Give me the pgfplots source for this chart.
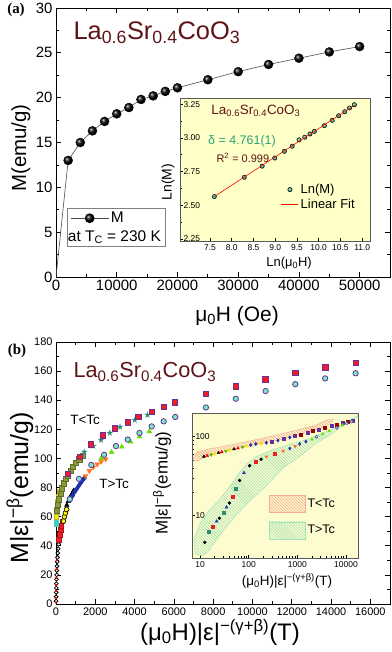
\documentclass[border=0pt]{standalone}
\usepackage{fontspec}
\setmainfont{Liberation Sans}
\setsansfont{Liberation Sans}
\newfontfamily\serifbf{Liberation Serif}
\usepackage{amssymb}
\usepackage{pgfplots}
\pgfplotsset{compat=1.18}
\usetikzlibrary{patterns}

\definecolor{titlered}{HTML}{5E1417}
\definecolor{insetbg}{HTML}{FFFFC8}
\definecolor{insetbgb}{HTML}{FCFCCF}
\definecolor{fitgreen}{HTML}{2AA37B}
\definecolor{dotgreen}{HTML}{3DBE8F}
\definecolor{edgepurple}{HTML}{6A2D9A}
\definecolor{sqred}{HTML}{EE1C25}
\definecolor{mint}{HTML}{74EBC0}
\definecolor{starteal}{HTML}{2E8B78}
\definecolor{olivegrn}{HTML}{8A9B3A}
\definecolor{limegrn}{HTML}{66E000}
\definecolor{orng}{HTML}{FF6F1E}
\definecolor{dblue}{HTML}{1F2FAE}
\definecolor{cyansq}{HTML}{40D0C0}
\definecolor{hatchred}{HTML}{EE8A6C}
\definecolor{hatchgrn}{HTML}{86D9AA}

\newcommand{\fs}[1]{\fontsize{#1}{#1}\selectfont}
\newcommand{\tstar}{\fs{8}\textcolor{starteal}{$\bigstar$}}

\pgfplotsset{
  every axis/.append style={
    scale only axis, clip mode=individual,
    /pgf/number format/assume math mode=true,
    /pgf/number format/1000 sep={},
    scaled ticks=false,
    tick style={black, line width=0.7bp},
    axis line style={line width=0.9bp},
  },
  mk/.style={only marks, mark size=#1},
  balllegend/.style={legend image code/.code={
    \draw[gray!60!black, line width=0.6bp] (0bp,0bp) -- (38bp,0bp);
    \draw[##1] plot coordinates {(19bp,0bp)};}},
  boxlegend/.style={legend image code/.code={\draw[##1] (0bp,-8.5bp) rectangle (36bp,8.5bp);}},
}

\begin{document}
\begin{tikzpicture}

%% ---------------- panel (a) ----------------
\begin{axis}[
  at={(56bp,-277bp)}, anchor=south west,
  width=334bp, height=269bp,
  xmin=0, xmax=55000, ymin=0, ymax=30,
  xtick={0,10000,20000,30000,40000,50000},
  ytick={0,5,10,15,20,25,30},
  minor x tick num=1, minor y tick num=1,
  major tick length=5bp, minor tick length=3bp,
  tick label style={font=\fs{15}},
  xlabel={μ\textsubscript{0}H (Oe)},
  ylabel={M(emu/g)},
  xlabel style={font=\fs{21}, at={(axis description cs:0.542,-0.145)}, anchor=center},
  ylabel style={font=\fs{20.5}, at={(axis description cs:-0.105,0.48)}, anchor=center},
  legend style={at={(axis description cs:0.033,0.112)}, anchor=south west,
    draw=gray, line width=0.7bp, fill=white, font=\fs{15.5}, cells={anchor=west},
    inner xsep=3bp, inner ysep=2bp, row sep=2bp},
]
\addplot[gray!60!black, line width=0.6bp, forget plot] coordinates {
  (0,0) (2000,13) (4000,15) (6000,16.3) (8000,17.35) (10000,18.2) (12000,18.9)
  (14000,19.8) (16000,20.2) (18000,20.7) (20000,21.1) (25000,22.0) (30000,22.9)
  (35000,23.7) (40000,24.4) (45000,25.1) (50000,25.7)};
\addplot[only marks, mark=ball, mark size=4.5bp, mark options={ball color=black}, balllegend]
  coordinates {
  (2000,13) (4000,15) (6000,16.3) (8000,17.35) (10000,18.2) (12000,18.9)
  (14000,19.8) (16000,20.2) (18000,20.7) (20000,21.1) (25000,22.0) (30000,22.9)
  (35000,23.7) (40000,24.4) (45000,25.1) (50000,25.7)};
\addlegendentry{M}
\addlegendimage{empty legend}
\addlegendentry{\hspace*{-43bp}at T\textsubscript{C} = 230 K}
\node[anchor=base west, font=\fs{25.5}, text=titlered] at (axis description cs:0.042,0.884)
  {La\textsubscript{0.6}Sr\textsubscript{0.4}CoO\textsubscript{3}};
\end{axis}

%% inset (a)
\begin{axis}[
  at={(180bp,-241bp)}, anchor=south west,
  width=190bp, height=143bp,
  xmin=6.81, xmax=11.18, ymin=2.235, ymax=3.297,
  axis background/.style={fill=insetbg},
  axis line style={gray!70!black, line width=0.7bp},
  xtick={7.5,8,8.5,9,9.5,10,10.5,11},
  ytick={2.25,2.5,2.75,3,3.25},
  minor y tick num=1,
  xtick pos=left, ytick pos=left,
  major tick length=3bp, minor tick length=2bp,
  tick label style={font=\fs{8.5}},
  xticklabel style={/pgf/number format/.cd, fixed, fixed zerofill, precision=1},
  yticklabel style={anchor=west, /pgf/number format/.cd, fixed, fixed zerofill, precision=2},
  xlabel={Ln(μ\textsubscript{0}H)}, ylabel={Ln(M)},
  xlabel style={font=\fs{13}, at={(axis description cs:0.574,-0.154)}, anchor=center},
  ylabel style={font=\fs{14}, at={(axis description cs:-0.063,0.413)}, anchor=center},
  legend style={at={(axis description cs:0.526,0.42)}, anchor=north west,
    draw=none, fill=none, font=\fs{13}, cells={anchor=west}, row sep=0bp, inner sep=1bp},
]
\addplot[only marks, mark=ball, mark size=2.2bp, mark options={ball color=dotgreen}] coordinates {
  (7.60,2.565) (8.29,2.708) (8.70,2.791) (8.99,2.851) (9.21,2.901) (9.39,2.939)
  (9.55,2.986) (9.68,3.006) (9.80,3.030) (9.90,3.049) (10.13,3.091) (10.31,3.131)
  (10.46,3.165) (10.60,3.195) (10.71,3.223) (10.82,3.247)};
\addlegendentry{Ln(M)}
\addplot[red, line width=0.6bp] coordinates {(7.60,2.565) (10.82,3.243)};
\addlegendentry{Linear Fit}
\node[anchor=base west, font=\fs{13.5}, text=titlered] at (axis description cs:0.147,0.888)
  {La\textsubscript{0.6}Sr\textsubscript{0.4}CoO\textsubscript{3}};
\node[anchor=west, font=\fs{12.5}, text=fitgreen] at (axis description cs:0.13,0.694) {δ = 4.761(1)};
\node[anchor=west, font=\fs{11}, text=titlered] at (axis description cs:0.174,0.584) {R\textsuperscript{2} = 0.999};
\end{axis}

%% ---------------- panel (b) ----------------
\begin{axis}[
  at={(56bp,-604bp)}, anchor=south west,
  width=334bp, height=262bp,
  xmin=0, xmax=17000, ymin=0, ymax=180,
  xtick={0,2000,4000,6000,8000,10000,12000,14000,16000},
  ytick={0,20,40,60,80,100,120,140,160,180},
  minor x tick num=1, minor y tick num=1,
  major tick length=5bp, minor tick length=3bp,
  tick label style={font=\fs{11}},
  xlabel={(μ\textsubscript{0}H)|ε|\textsuperscript{−(γ+β)}(T)},
  ylabel={M|ε|\textsuperscript{−β}(emu/g)},
  xlabel style={font=\fs{24}, at={(axis description cs:0.491,-0.107)}, anchor=center},
  ylabel style={font=\fs{25}, at={(axis description cs:-0.108,0.443)}, anchor=center},
]
% T>Tc, low fields
\addplot[mk=1.9bp, mark=*, mark options={fill=white, draw=black, line width=0.8bp}] coordinates {
  (3,2) (6,5) (10,8) (14,11) (19,14) (25,17) (32,20) (40,23) (50,26) (62,29)
  (76,32) (92,35) (112,38) (135,41) (165,44) (200,47) (240,50)};
\addplot[mk=0.9bp, mark=*, red] coordinates {
  (2,1) (4,4) (7,9) (11,13) (16,18) (24,24) (36,30)};
\addplot[mk=2.3bp, mark=square*, mark options={fill=sqred, draw=sqred!70!black}] coordinates {
  (150,44) (190,47.5) (230,51) (270,54) (310,57)};
\addplot[mk=2.4bp, mark=*, mark options={fill=yellow, draw=black, line width=0.6bp}] coordinates {
  (380,57) (430,60) (480,62.5) (540,65)};
\addplot[mk=2.6bp, mark=triangle*, black] coordinates {
  (550,68) (620,70.5) (700,73) (800,75.5) (900,78)};
\addplot[mk=2.8bp, mark=diamond*, dblue] coordinates {
  (750,72) (850,74.5) (950,77) (1050,79) (1150,81) (1250,83) (1350,85) (1450,86.5)};
\addplot[mk=2.8bp, mark=triangle*, orng, mark options={rotate=180}] coordinates {
  (1500,88) (1700,91.5) (1900,94) (2100,96) (2300,97.8) (2530,99.5)};
\addplot[mk=2.8bp, mark=triangle*, limegrn] coordinates {
  (2300,100) (2830,104.3) (3350,108) (3800,111.5) (4250,115) (4750,118.5)};
% T<Tc, low fields
\addplot[mk=2.2bp, mark=square*, cyansq] coordinates {
  (5,55) (12,58) (25,61.5) (45,65)};
\addplot[mk=2.3bp, mark=square*, mark options={fill=yellow!90!orange, draw=yellow!70!black}] coordinates {
  (15,60) (35,63.5) (60,67) (90,70.5) (130,74) (180,77.5)};
\addplot[mk=2.6bp, mark=square*, mark options={fill=olivegrn, draw=olivegrn!70!black}] coordinates {
  (40,64) (90,68) (150,72) (220,76) (300,79.5) (390,83) (490,86) (600,88.5)
  (730,91.5) (870,94.5) (1020,97) (1180,99.5) (1350,102)};
\addplot[only marks, mark=text, text mark={\tstar}] coordinates {
  (1450,104) (1900,108.5) (2300,112.5) (2740,117.3) (3260,121) (4020,126) (4660,129.2)};
% nearest temperatures
\addplot[mk=2.7bp, mark=*, mark options={fill=mint, draw=edgepurple, line width=0.8bp}] coordinates {
  (700,72) (1170,86) (1800,95.5) (2450,102.5) (3050,108.5) (3650,113) (4250,117.5)
  (4870,122) (5480,125.5) (6070,128.5) (7630,135) (9150,141) (10670,146.3)
  (12180,151) (13700,155) (15250,158.5)};
\addplot[mk=2.7bp, mark=square*, mark options={fill=sqred, draw=edgepurple, line width=0.8bp}] coordinates {
  (592,89.3) (1204,101.2) (1780,109.7) (2393,115.9) (3000,120.7) (3650,124.9)
  (4190,128.7) (4885,132.1) (5498,135.6) (6058,138.4) (7629,144.3) (9147,149.6)
  (10666,154.4) (12184,158.7) (13702,162.6) (15252,165.8)};
\node[anchor=base west, text=titlered, font=\fs{21.8}] at (axis description cs:0.042,0.864)
  {La\textsubscript{0.6}Sr\textsubscript{0.4}CoO\textsubscript{3}};
\node[font=\fs{13.5}] at (axis description cs:0.087,0.702) {T<Tc};
\node[font=\fs{13.5}] at (axis description cs:0.174,0.458) {T>Tc};
\end{axis}

%% inset (b)
\begin{axis}[
  xmode=log, ymode=log,
  at={(192bp,-558bp)}, anchor=south west,
  width=166bp, height=145bp,
  xmin=6.84, xmax=17660, ymin=2.92, ymax=200,
  axis background/.style={fill=insetbgb},
  axis line style={gray!70!black, line width=0.7bp},
  xtick={10,100,1000,10000}, xticklabels={10,100,1000,10000},
  ytick={10,100}, yticklabels={10,100},
  xtick pos=left, ytick pos=left,
  major tick length=3bp, minor tick length=2bp,
  yticklabel style={anchor=west},
  tick label style={font=\fs{8.5}},
  xlabel={(μ\textsubscript{0}H)|ε|\textsuperscript{−(γ+β)}(T)},
  ylabel={M|ε|\textsuperscript{−β}(emu/g)},
  xlabel style={font=\fs{13.5}, at={(axis description cs:0.572,-0.159)}, anchor=center},
  ylabel style={font=\fs{17}, at={(axis description cs:-0.18,0.517)}, anchor=center},
  legend style={draw=none, fill=none, at={(axis description cs:0.446,0.448)}, anchor=north west,
    font=\fs{12.5}, row sep=9bp, cells={anchor=west}},
]
\addplot[boxlegend, pattern=north west lines, pattern color=hatchred, draw=hatchred!70, line width=0.4bp] coordinates {
  (7.5,58) (9,65) (15,70) (40,78) (100,88) (300,102) (1000,122) (2500,142) (4300,165) (5500,166)
  (5000,150) (3500,133) (1500,112) (500,94) (150,80) (50,70) (20,62) (12,55) (9,49) (7.5,50) (7.5,58)};
\addlegendentry{T<Tc}
\addplot[boxlegend, pattern=north west lines, pattern color=hatchgrn, draw=hatchgrn!80, line width=0.4bp] coordinates {
  (8,3.3) (7.6,5) (10,8) (15,11.5) (25,16) (40,23) (60,33) (90,45) (150,57) (300,68) (700,80)
  (1500,92) (3000,108) (6000,130) (12000,160) (17500,188)
  (17000,176) (10000,150) (5500,112) (2500,84) (1100,56) (500,40) (230,24) (100,15)
  (50,9.5) (25,5.6) (15,3.6) (11,3.1) (8,3.3)};
\addlegendentry{T>Tc}
% upper branch
\addplot[mk=1.7bp, mark=triangle*, black, forget plot] coordinates {(12,56.3) (24,62.6) (50,69.8)};
\addplot[mk=1.7bp, mark=triangle*, red, forget plot] coordinates {(14,57.6) (28,64.0) (60,71.7)};
\addplot[mk=1.7bp, mark=triangle*, limegrn!80!black, mark options={rotate=180}, forget plot] coordinates {(17,59.3) (34,65.9) (75,74.2)};
\addplot[mk=1.6bp, mark=*, yellow!85!orange, forget plot] coordinates {(20,60.8) (40,67.5) (90,76.2) (180,82)};
\addplot[mk=1.7bp, mark=diamond*, dblue, forget plot] coordinates {(110,78.6) (140,81) (230,84) (400,90) (700,98)};
\addplot[mk=1.5bp, mark=square*, edgepurple, forget plot] coordinates {(300,87) (520,94) (900,102) (1600,112) (2800,124) (5000,137) (8500,150) (14000,162)};
\addplot[mk=1.5bp, mark=square*, red!60!black, forget plot] coordinates {(1200,107) (2100,118) (3700,130) (6500,144) (11000,156)};
% lower branch
\addplot[mk=1.5bp, mark=*, black, forget plot] coordinates {(12.5,4.6) (25,9.3) (40,14.5) (65,28) (105,43) (180,52)};
\addplot[mk=1.5bp, mark=square*, starteal, forget plot] coordinates {(15,6.2) (30,11) (55,22)};
\addplot[mk=1.7bp, mark=triangle*, dblue, forget plot] coordinates {(22,8.5) (35,12.8) (80,35)};
\addplot[mk=1.5bp, mark=square*, sqred, forget plot] coordinates {(18,7.3) (47,17.5) (140,48) (350,61)};
\addplot[mk=1.7bp, mark=triangle*, orng, mark options={rotate=180}, forget plot] coordinates {(232,56) (509,66) (900,76)};
\addplot[mk=1.6bp, mark=diamond*, dblue, forget plot] coordinates {(700,71) (1120,81) (1500,87)};
\addplot[mk=1.7bp, mark=triangle*, limegrn, forget plot] coordinates {(2000,93) (3300,108) (4500,118) (8500,140)};
\addplot[mk=1.6bp, mark=*, mint, mark options={draw=edgepurple}, forget plot] coordinates {(2490,100) (6500,130) (10300,148) (13000,156)};
\end{axis}

\node[font=\serifbf\bfseries\fs{15}] at (16bp,-10bp) {(a)};
\node[font=\serifbf\bfseries\fs{15}] at (17bp,-351bp) {(b)};
\pgfresetboundingbox
\path[use as bounding box] (0,0) rectangle (392bp,-652bp);
\end{tikzpicture}
\end{document}
